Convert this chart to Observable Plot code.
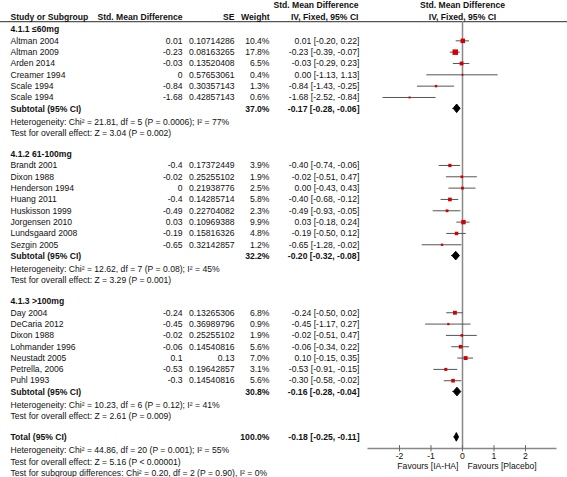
<!DOCTYPE html>
<html><head><meta charset="utf-8">
<script src="https://cdn.jsdelivr.net/npm/d3@7"></script>
<script src="https://cdn.jsdelivr.net/npm/@observablehq/plot@0.6"></script>
<style>html,body{margin:0;padding:0;background:#fff}svg{display:block}</style>
</head><body><div id="chart"></div>
<script>
// ---------- data ----------
const groupLabels = ["4.1.1 \u226460mg", "4.1.2 61-100mg", "4.1.3 >100mg"];

const g1Study  = ["Altman 2004","Altman 2009","Arden 2014","Creamer 1994","Scale 1994","Scale 1994"];
const g1Smd    = ["0.01","-0.23","-0.03","0","-0.84","-1.68"];
const g1Se     = ["0.10714286","0.08163265","0.13520408","0.57653061","0.30357143","0.42857143"];
const g1Weight = [10.4,17.8,6.5,0.4,1.3,0.6];
const g1Est    = [0.01,-0.23,-0.03,0.00,-0.84,-1.68];
const g1Lo     = [-0.20,-0.39,-0.29,-1.13,-1.43,-2.52];
const g1Hi     = [0.22,-0.07,0.23,1.13,-0.25,-0.84];

const g2Study  = ["Brandt 2001","Dixon 1988","Henderson 1994","Huang 2011","Huskisson 1999","Jorgensen 2010","Lundsgaard 2008","Sezgin 2005"];
const g2Smd    = ["-0.4","-0.02","0","-0.4","-0.49","0.03","-0.19","-0.65"];
const g2Se     = ["0.17372449","0.25255102","0.21938776","0.14285714","0.22704082","0.10969388","0.15816326","0.32142857"];
const g2Weight = [3.9,1.9,2.5,5.8,2.3,9.9,4.8,1.2];
const g2Est    = [-0.40,-0.02,0.00,-0.40,-0.49,0.03,-0.19,-0.65];
const g2Lo     = [-0.74,-0.51,-0.43,-0.68,-0.93,-0.18,-0.50,-1.28];
const g2Hi     = [-0.06,0.47,0.43,-0.12,-0.05,0.24,0.12,-0.02];

const g3Study  = ["Day 2004","DeCaria 2012","Dixon 1988","Lohmander 1996","Neustadt 2005","Petrella, 2006","Puhl 1993"];
const g3Smd    = ["-0.24","-0.45","-0.02","-0.06","0.1","-0.53","-0.3"];
const g3Se     = ["0.13265306","0.36989796","0.25255102","0.14540816","0.13","0.19642857","0.14540816"];
const g3Weight = [6.8,0.9,1.9,5.6,7.0,3.1,5.6];
const g3Est    = [-0.24,-0.45,-0.02,-0.06,0.10,-0.53,-0.30];
const g3Lo     = [-0.50,-1.17,-0.51,-0.34,-0.15,-0.91,-0.58];
const g3Hi     = [0.02,0.27,0.47,0.22,0.35,-0.15,-0.02];

const subWeight = [37.0, 32.2, 30.8];
const subEst    = [-0.17, -0.20, -0.16];
const subLo     = [-0.28, -0.32, -0.28];
const subHi     = [-0.06, -0.08, -0.04];
const subHet    = [
  "Heterogeneity: Chi\u00b2 = 21.81, df = 5 (P = 0.0006); I\u00b2 = 77%",
  "Heterogeneity: Chi\u00b2 = 12.62, df = 7 (P = 0.08); I\u00b2 = 45%",
  "Heterogeneity: Chi\u00b2 = 10.23, df = 6 (P = 0.12); I\u00b2 = 41%"
];
const subTest   = [
  "Test for overall effect: Z = 3.04 (P = 0.002)",
  "Test for overall effect: Z = 3.29 (P = 0.001)",
  "Test for overall effect: Z = 2.61 (P = 0.009)"
];

const totalWeight = 100.0, totalEst = -0.18, totalLo = -0.25, totalHi = -0.11;
const totalNotes = [
  "Heterogeneity: Chi\u00b2 = 44.86, df = 20 (P = 0.001); I\u00b2 = 55%",
  "Test for overall effect: Z = 5.16 (P < 0.00001)",
  "Test for subgroup differences: Chi\u00b2 = 0.20, df = 2 (P = 0.90), I\u00b2 = 0%"
];

const axisTicks = [-2, -1, 0, 1, 2];
const favoursLeft = "Favours [IA-HA]";
const favoursRight = "Favours [Placebo]";

// ---------- table construction ----------
const groups = [
  {study:g1Study, smd:g1Smd, se:g1Se, weight:g1Weight, est:g1Est, lo:g1Lo, hi:g1Hi},
  {study:g2Study, smd:g2Smd, se:g2Se, weight:g2Weight, est:g2Est, lo:g2Lo, hi:g2Hi},
  {study:g3Study, smd:g3Smd, se:g3Se, weight:g3Weight, est:g3Est, lo:g3Lo, hi:g3Hi}
];
const f2 = v => v.toFixed(2);
const ciText = (e, l, h) => `${f2(e)} [${f2(l)}, ${f2(h)}]`;

const rows = [];
let r = 0;
groups.forEach((g, gi) => {
  rows.push({row: r++, kind: "group", label: groupLabels[gi]});
  g.study.forEach((s, i) => rows.push({
    row: r++, kind: "study", label: s, smd: g.smd[i], se: g.se[i],
    weight: g.weight[i], wtext: g.weight[i].toFixed(1) + "%",
    est: g.est[i], lo: g.lo[i], hi: g.hi[i], ci: ciText(g.est[i], g.lo[i], g.hi[i])
  }));
  rows.push({row: r++, kind: "summary", label: "Subtotal (95% CI)",
    wtext: subWeight[gi].toFixed(1) + "%", est: subEst[gi], lo: subLo[gi], hi: subHi[gi],
    ci: ciText(subEst[gi], subLo[gi], subHi[gi])});
  rows.push({row: r++, kind: "note", label: subHet[gi]});
  rows.push({row: r++, kind: "note", label: subTest[gi]});
  r++;
});
rows.push({row: r++, kind: "summary", label: "Total (95% CI)",
  wtext: totalWeight.toFixed(1) + "%", est: totalEst, lo: totalLo, hi: totalHi,
  ci: ciText(totalEst, totalLo, totalHi)});
totalNotes.forEach(t => rows.push({row: r++, kind: "note", label: t}));
const lastRow = r - 1;
const totalRow = rows.find(d => d.label === "Total (95% CI)").row;

const studies = rows.filter(d => d.kind === "study");
const summaries = rows.filter(d => d.kind === "summary");
const boldRows = rows.filter(d => d.kind === "group" || d.kind === "summary");
const studyRows = rows.filter(d => d.kind === "study");
const noteRows = rows.filter(d => d.kind === "note");

// diamond outline points
const dh = 0.38;
const diamondPts = summaries.flatMap(d => [
  {id: d.row, x: d.lo, y1: d.row, y2: d.row},
  {id: d.row, x: d.est, y1: d.row - dh, y2: d.row + dh},
  {id: d.row, x: d.hi, y1: d.row, y2: d.row}
]);

// ---------- layout ----------
const W = 567, H = 477;
const rowStep = 11.33, firstRowY = 29;
const xRange = [367.5, 556.5];
const colStudy = 10, colSmd = 182, colSe = 234, colWeight = 269, colCi = 359;
const headerRow1 = -2.1, headerRow2 = -1.12, ruleRow = -0.7;
const axisRow = totalRow + 0.98;
const font = 8.6;
const ink = "#111";

const headerLeft = [
  {row: headerRow2, text: "Study or Subgroup", pos: colStudy, anchor: "start"},
  {row: headerRow2, text: "Std. Mean Difference", pos: colSmd, anchor: "end"},
  {row: headerRow2, text: "SE", pos: colSe, anchor: "end"},
  {row: headerRow2, text: "Weight", pos: colWeight, anchor: "end"},
  {row: headerRow1, text: "Std. Mean Difference", pos: colCi - 1, anchor: "end"},
  {row: headerRow2, text: "IV, Fixed, 95% CI", pos: colCi - 1, anchor: "end"}
];
const headerPlot = [
  {row: headerRow1, text: "Std. Mean Difference"},
  {row: headerRow2, text: "IV, Fixed, 95% CI"}
];

const colText = (data, field, pos, anchor, weight, dy = 0) =>
  Plot.text(data, {y: "row", text: field, frameAnchor: "left", dx: pos, dy,
    textAnchor: anchor, fontSize: font, fontWeight: weight, fill: ink});

const chart = Plot.plot({
  width: W, height: H,
  marginTop: 0, marginBottom: 0, marginLeft: 0, marginRight: 0,
  style: {fontFamily: "Arial, 'Liberation Sans', sans-serif", background: "#fff", color: ink},
  x: {domain: [-3, 3], range: xRange, axis: null},
  y: {domain: [0, lastRow], range: [firstRowY, firstRowY + lastRow * rowStep], axis: null},
  r: {type: "sqrt", domain: [0, 17.8], range: [0.7, 3.1]},
  marks: [
    // header rule
    Plot.ruleY([ruleRow], {stroke: "#555", strokeWidth: 1.3}),
    // line of no effect
    Plot.ruleX([0], {y1: ruleRow, y2: axisRow, stroke: "#888", strokeWidth: 1.5}),
    // axis
    Plot.ruleY([axisRow], {x1: -3, x2: 3, stroke: "#888", strokeWidth: 1.5}),
    Plot.ruleX(axisTicks, {x: d => d, y1: axisRow - 0.25, y2: axisRow + 0.3, stroke: "#666", strokeWidth: 1}),
    Plot.text(axisTicks, {x: d => d, y: () => axisRow, dy: 8, text: d => String(d), fontSize: font, fill: ink}),
    Plot.text([favoursLeft], {x: () => 0, y: () => axisRow, dy: 18, dx: -4, text: d => d, textAnchor: "end", fontSize: font, fill: ink}),
    Plot.text([favoursRight], {x: () => 0, y: () => axisRow, dy: 18, dx: 5, text: d => d, textAnchor: "start", fontSize: font, fill: ink}),
    // confidence intervals and squares
    Plot.ruleY(studies, {y: "row", x1: "lo", x2: "hi", stroke: "#555", strokeWidth: 1}),
    Plot.dot(studies, {x: "est", y: "row", r: "weight", symbol: "square", fill: "#d40000", stroke: null}),
    // diamonds
    Plot.areaY(diamondPts, {x: "x", y1: "y1", y2: "y2", z: "id", fill: "#000", stroke: "#000", strokeWidth: 1, curve: "linear"}),
    // headers
    ...headerLeft.map(h => Plot.text([h], {y: "row", text: "text", frameAnchor: "left", dx: h.pos, textAnchor: h.anchor, fontSize: font, fontWeight: "bold", fill: ink})),
    Plot.text(headerPlot, {x: () => 0, y: "row", text: "text", fontSize: font, fontWeight: "bold", fill: ink}),
    // table text
    colText(studyRows, "label", colStudy, "start", "normal"),
    colText(noteRows, "label", colStudy, "start", "normal", 1.8),
    colText(boldRows, "label", colStudy, "start", "bold"),
    colText(studies, "smd", colSmd, "end", "normal"),
    colText(studies, "se", colSe, "end", "normal"),
    colText(studies, "wtext", colWeight, "end", "normal"),
    colText(summaries, "wtext", colWeight, "end", "bold"),
    colText(studies, "ci", colCi, "end", "normal"),
    colText(summaries, "ci", colCi, "end", "bold")
  ]
});
document.getElementById("chart").appendChild(chart);
</script>
</body></html>
